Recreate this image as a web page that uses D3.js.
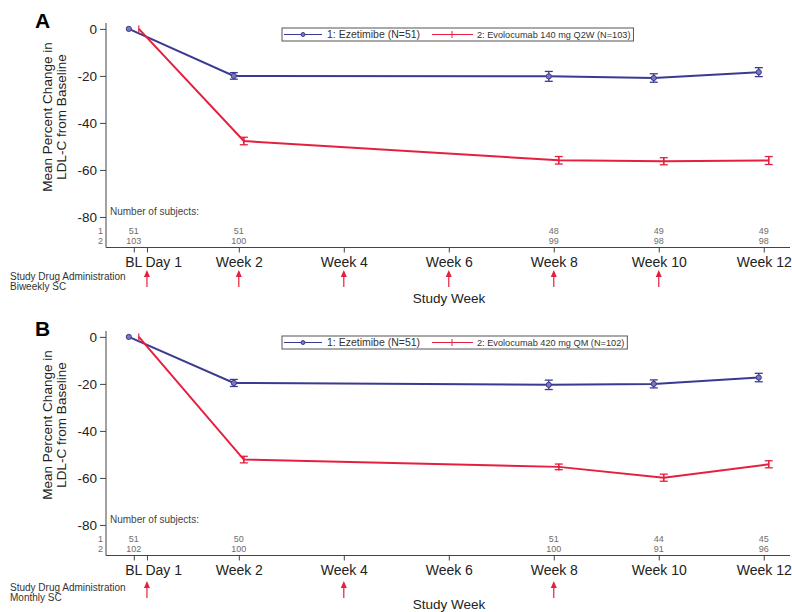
<!DOCTYPE html>
<html>
<head>
<meta charset="utf-8">
<script src="https://cdn.jsdelivr.net/npm/d3@7"></script>
<style>
  body { margin: 0; background: #fff; }
  text { font-family: "Liberation Sans", Arial, sans-serif; }
</style>
</head>
<body>
<div id="chart"></div>
<script>
// visits on the x axis
const visitLabels = ['BL', 'Day 1', 'Week 2', 'Week 4', 'Week 6', 'Week 8', 'Week 10', 'Week 12'];
const visitWeeks = [0, 0.25, 2, 4, 6, 8, 10, 12];

// weeks with a measurement
const measWeeks = [0, 2, 8, 10, 12];

// panel A
const aEzeMean = [0, -20.0, -20.2, -20.9, -18.4];
const aEzeSE = [0, 1.4, 2.1, 1.8, 1.9];
const aEvoMean = [0, -47.7, -55.9, -56.3, -56.0];
const aEvoSE = [0, 1.6, 1.6, 1.5, 1.7];
const aN1 = ['51', '51', '48', '49', '49'];
const aN2 = ['103', '100', '99', '98', '98'];
const aDoseWeeks = [0.25, 2, 4, 6, 8, 10];

// panel B
const bEzeMean = [0, -19.6, -20.4, -20.0, -17.3];
const bEzeSE = [0, 1.5, 2.0, 1.7, 1.8];
const bEvoMean = [0, -52.2, -55.3, -59.9, -54.2];
const bEvoSE = [0, 1.4, 1.2, 1.5, 1.5];
const bN1 = ['51', '50', '51', '44', '45'];
const bN2 = ['102', '100', '100', '91', '96'];
const bDoseWeeks = [0.25, 4, 8];

const yTicks = [0, -20, -40, -60, -80];

const blue = '#3a3a92',
    red = '#e5203f',
    grey = '#6e6e6e';

var svg = d3.select('#chart')
    .append('svg')
    .attr('width', 792)
    .attr('height', 612);

var xScale = d3.scaleLinear()
    .domain([-0.53, 12.5])
    .range([106, 790]);

var panels = [
    { letter: 'A', top: 0, eze: aEzeMean, ezeSE: aEzeSE, evo: aEvoMean, evoSE: aEvoSE,
      n1: aN1, n2: aN2, dose: aDoseWeeks, evoName: '2: Evolocumab 140 mg Q2W (N=103)',
      sched: 'Biweekly SC', arrowY: 270, weekY: 303 },
    { letter: 'B', top: 308, eze: bEzeMean, ezeSE: bEzeSE, evo: bEvoMean, evoSE: bEvoSE,
      n1: bN1, n2: bN2, dose: bDoseWeeks, evoName: '2: Evolocumab 420 mg QM (N=102)',
      sched: 'Monthly SC', arrowY: 273, weekY: 301 }
];

panels.forEach(function (p) {
    var g = svg.append('g').attr('transform', 'translate(0,' + p.top + ')');

    var yScale = d3.scaleLinear()
        .domain([2.5, -93])
        .range([23, 247.5]);

    // panel letter
    g.append('text')
        .attr('x', 35).attr('y', 28)
        .style('font-size', '21px').style('font-weight', 'bold')
        .text(p.letter);

    // y axis
    var yAxis = d3.axisLeft(yScale).tickValues(yTicks).tickSize(6).tickPadding(3)
        .tickFormat(function (d) { return String(d); });
    var ya = g.append('g')
        .attr('transform', 'translate(106,0)')
        .call(yAxis);
    ya.select('.domain').attr('stroke', '#444').attr('d', 'M0,23V247.5');
    ya.selectAll('.tick line').attr('stroke', '#444');
    ya.selectAll('.tick text').style('font-size', '13.5px').attr('fill', '#222')
        .style('font-family', '"Liberation Sans", Arial, sans-serif');

    // y title
    var yt = g.append('text')
        .attr('transform', 'translate(52,117) rotate(-90)')
        .attr('text-anchor', 'middle')
        .style('font-size', '13.5px').attr('fill', '#222');
    yt.append('tspan').attr('x', 0).attr('dy', 0).text('Mean Percent Change in');
    yt.append('tspan').attr('x', 0).attr('dy', 14).text('LDL-C from Baseline');

    // x axis
    var xAxis = d3.axisBottom(xScale)
        .tickValues(visitWeeks)
        .tickFormat(function (d, i) { return visitLabels[i]; })
        .tickSize(5).tickPadding(5);
    var xa = g.append('g')
        .attr('transform', 'translate(0,247.5)')
        .call(xAxis);
    xa.select('.domain').attr('stroke', '#444').attr('d', 'M106,0H790');
    xa.selectAll('.tick line').attr('stroke', '#444');
    xa.selectAll('.tick text').style('font-size', '14px').attr('fill', '#222')
        .style('font-family', '"Liberation Sans", Arial, sans-serif')
        .attr('text-anchor', function (d, i) { return i === 0 ? 'end' : (i === 1 ? 'start' : 'middle'); })
        .attr('dx', function (d, i) { return i === 0 ? 8 : (i === 1 ? -2 : 0); });

    g.append('text')
        .attr('x', 449).attr('y', p.weekY)
        .attr('text-anchor', 'middle')
        .style('font-size', '13.5px').attr('fill', '#222')
        .text('Study Week');

    // dosing arrows
    g.selectAll('.dose')
        .data(p.dose)
        .enter()
        .append('g')
        .each(function (d) {
            var x = xScale(d);
            var a = d3.select(this);
            a.append('line')
                .attr('x1', x).attr('x2', x)
                .attr('y1', p.arrowY + 2).attr('y2', p.arrowY + 17)
                .attr('stroke', red).attr('stroke-width', 1.2);
            a.append('path')
                .attr('d', 'M' + (x - 3) + ',' + (p.arrowY + 7) + 'L' + x + ',' + p.arrowY +
                    'L' + (x + 3) + ',' + (p.arrowY + 7) + 'Z')
                .attr('fill', red);
        });

    g.append('text')
        .attr('x', 10).attr('y', p.arrowY + 10)
        .style('font-size', '10px').attr('fill', '#333')
        .text('Study Drug Administration');
    g.append('text')
        .attr('x', 10).attr('y', p.arrowY + 20)
        .style('font-size', '10px').attr('fill', '#333')
        .text(p.sched);

    // number of subjects
    g.append('text')
        .attr('x', 110).attr('y', 215)
        .style('font-size', '10px').attr('fill', '#444')
        .text('Number of subjects:');
    [['1', p.n1, 233.5], ['2', p.n2, 244]].forEach(function (row) {
        g.append('text')
            .attr('x', 103).attr('y', row[2])
            .attr('text-anchor', 'end')
            .style('font-size', '9px').attr('fill', grey)
            .text(row[0]);
        g.selectAll(null)
            .data(row[1])
            .enter()
            .append('text')
            .attr('x', function (d, i) { return xScale(measWeeks[i]); })
            .attr('y', row[2])
            .attr('text-anchor', 'middle')
            .style('font-size', '9px').attr('fill', grey)
            .text(function (d) { return d; });
    });

    // series
    var series = [
        { mean: p.eze, se: p.ezeSE, color: blue, dx: -5, marker: 'circle' },
        { mean: p.evo, se: p.evoSE, color: red, dx: 5, marker: 'plus' }
    ];

    series.forEach(function (s) {
        var line = d3.line()
            .x(function (d, i) { return xScale(measWeeks[i]) + s.dx; })
            .y(function (d) { return yScale(d); });

        g.append('path')
            .datum(s.mean)
            .attr('d', line)
            .attr('fill', 'none')
            .attr('stroke', s.color)
            .attr('stroke-width', 2);

        var pts = g.selectAll(null)
            .data(s.mean)
            .enter()
            .append('g');

        pts.each(function (d, i) {
            var x = xScale(measWeeks[i]) + s.dx;
            var pg = d3.select(this);
            if (s.se[i] > 0) {
                var y1 = yScale(d + s.se[i]), y2 = yScale(d - s.se[i]);
                pg.append('line')
                    .attr('x1', x).attr('x2', x).attr('y1', y1).attr('y2', y2)
                    .attr('stroke', s.color).attr('stroke-width', 1.3);
                pg.append('line')
                    .attr('x1', x - 4).attr('x2', x + 4).attr('y1', y1).attr('y2', y1)
                    .attr('stroke', s.color).attr('stroke-width', 1.3);
                pg.append('line')
                    .attr('x1', x - 4).attr('x2', x + 4).attr('y1', y2).attr('y2', y2)
                    .attr('stroke', s.color).attr('stroke-width', 1.3);
            }
            if (s.marker === 'circle') {
                pg.append('circle')
                    .attr('cx', x).attr('cy', yScale(d)).attr('r', 2.6)
                    .attr('fill', '#7a7ab8').attr('stroke', s.color).attr('stroke-width', 1);
            } else {
                pg.append('line')
                    .attr('x1', x).attr('x2', x)
                    .attr('y1', yScale(d) - 3.5).attr('y2', yScale(d) + 3.5)
                    .attr('stroke', s.color).attr('stroke-width', 1.2);
            }
        });
    });

    // legend
    var lg = g.append('g').attr('transform', 'translate(282,28)');
    var box = lg.append('rect')
        .attr('x', 0).attr('y', 0).attr('height', 13)
        .attr('fill', '#fff').attr('stroke', '#555').attr('stroke-width', 1);
    lg.append('line').attr('x1', 2).attr('x2', 40).attr('y1', 6.5).attr('y2', 6.5)
        .attr('stroke', blue).attr('stroke-width', 1);
    lg.append('circle').attr('cx', 21).attr('cy', 6.5).attr('r', 2)
        .attr('fill', '#7a7ab8').attr('stroke', blue);
    lg.append('text').attr('x', 45).attr('y', 10.3)
        .style('font-size', '10.5px').attr('fill', '#333')
        .text('1: Ezetimibe (N=51)');
    lg.append('line').attr('x1', 150).attr('x2', 191).attr('y1', 6.5).attr('y2', 6.5)
        .attr('stroke', red).attr('stroke-width', 1);
    lg.append('line').attr('x1', 170).attr('x2', 170).attr('y1', 3).attr('y2', 10)
        .attr('stroke', red).attr('stroke-width', 1);
    var t2 = lg.append('text').attr('x', 195).attr('y', 10)
        .style('font-size', '9.2px').attr('fill', '#333')
        .text(p.evoName);
    var w = t2.node().getComputedTextLength();
    box.attr('width', 195 + w + 3);
});
</script>
</body>
</html>
